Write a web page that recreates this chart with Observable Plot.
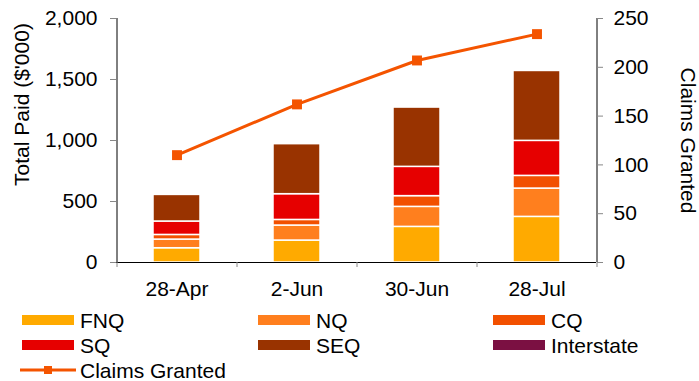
<!DOCTYPE html>
<html><head><meta charset="utf-8">
<script src="https://cdn.jsdelivr.net/npm/d3@7"></script>
<script src="https://cdn.jsdelivr.net/npm/@observablehq/plot@0.6"></script>
<style>
body{margin:0;background:#fff;font-family:"Liberation Sans",Arial,sans-serif;}
#legend{position:relative;width:699px;height:81px;font-size:21px;color:#000;}
.item{position:absolute;display:flex;align-items:center;height:25px;line-height:25px;white-space:nowrap;}
.sw{width:52px;height:10px;margin-right:6px;}
</style></head><body><div id="chart"></div><div id="legend"></div>
<script>
const dates = ["28-Apr", "2-Jun", "30-Jun", "28-Jul"];
const regions = ["FNQ", "NQ", "CQ", "SQ", "SEQ", "Interstate"];
const colors = ["#FFAA00", "#FF7F1E", "#F25000", "#E60000", "#993300", "#7B1042"];
const FNQ = [117, 180, 292, 374];
const NQ = [71, 123, 164, 232];
const CQ = [38, 46, 88, 104];
const SQ = [110, 211, 240, 287];
const SEQ = [218, 410, 486, 573];
const Interstate = [0, 0, 0, 0];
const claimsGranted = [110, 162, 207, 234];
const leftTicks = [0, 500, 1000, 1500, 2000];
const rightTicks = [0, 50, 100, 150, 200, 250];
const lineColor = "#F45400";

const series = {FNQ, NQ, CQ, SQ, SEQ, Interstate};
const rows = [];
regions.forEach(r => dates.forEach((d, i) => rows.push({date: d, region: r, value: series[r][i]})));
const claimRows = dates.map((d, i) => ({date: d, claims: claimsGranted[i]}));
const k = leftTicks[leftTicks.length - 1] / rightTicks[rightTicks.length - 1];

const W = 699, H = 300, mL = 116, mR = 103, mT = 18, mB = 38;
const step = (W - mL - mR) / dates.length;
const fmt = d3.format(",");

const chart = Plot.plot({
  width: W, height: H,
  marginLeft: mL, marginRight: mR, marginTop: mT, marginBottom: mB,
  x: {domain: dates, paddingInner: 0.61, paddingOuter: 0.305, label: null, axis: null},
  y: {domain: [0, 2000], label: null, axis: null},
  color: {domain: regions, range: colors},
  style: {fontFamily: "'Liberation Sans', Arial, sans-serif", fontSize: "21px", color: "#000", background: "#fff", overflow: "visible"},
  marks: [
    Plot.barY(rows, {x: "date", y: "value", fill: "region", stroke: "white", strokeWidth: 1.5, filter: d => d.value > 0}),
    Plot.ruleY([0], {stroke: "#000"}),
    Plot.ruleX([dates[0]], {dx: -step / 2, stroke: "#000"}),
    Plot.ruleX([dates[dates.length - 1]], {dx: step / 2, stroke: "#000"}),
    Plot.ruleX(dates, {dx: -step / 2, stroke: "#888", insetTop: H - mT - mB, insetBottom: -5}),
    Plot.ruleX([dates[dates.length - 1]], {dx: step / 2, stroke: "#888", insetTop: H - mT - mB, insetBottom: -5}),
    Plot.axisY({anchor: "left", ticks: leftTicks, tickFormat: fmt, tickSize: 6, tickPadding: 13, stroke: "#888", fill: "#000", label: null}),
    Plot.axisY({anchor: "right", ticks: rightTicks.map(v => v * k), tickFormat: v => fmt(v / k), tickSize: 6, tickPadding: 11, stroke: "#888", fill: "#000", label: null}),
    Plot.axisX({anchor: "bottom", tickSize: 0, tickPadding: 19, fill: "#000", label: null}),
    Plot.line(claimRows, {x: "date", y: d => d.claims * k, stroke: lineColor, strokeWidth: 3}),
    Plot.dot(claimRows, {x: "date", y: d => d.claims * k, symbol: "square", r: 5.6, fill: lineColor, stroke: "none"}),
    Plot.text(["Total Paid ($'000)"], {text: d => d, frameAnchor: "left", textAnchor: "middle", dx: -94, dy: -36, rotate: -90, fill: "#000"}),
    Plot.text(["Claims Granted"], {text: d => d, frameAnchor: "right", textAnchor: "middle", dx: 91, rotate: 90, fill: "#000"})
  ]
});
document.getElementById("chart").appendChild(chart);

const legend = document.getElementById("legend");
const cols = [22, 258, 493];
const rowTops = [7.5, 32.5, 57.5];
regions.forEach((r, i) => {
  const it = document.createElement("div");
  it.className = "item";
  it.style.left = cols[i % 3] + "px";
  it.style.top = rowTops[Math.floor(i / 3)] + "px";
  it.innerHTML = `<span class="sw" style="background:${colors[i]}"></span><span>${r}</span>`;
  legend.appendChild(it);
});
const li = document.createElement("div");
li.className = "item";
li.style.left = "20px";
li.style.top = rowTops[2] + "px";
li.innerHTML = `<svg width="56" height="12" style="margin-right:4px"><line x1="0" x2="56" y1="6" y2="6" stroke="${lineColor}" stroke-width="3"/><rect x="24" y="2" width="8" height="8" fill="${lineColor}"/></svg><span>Claims Granted</span>`;
legend.appendChild(li);
</script>
</body></html>
